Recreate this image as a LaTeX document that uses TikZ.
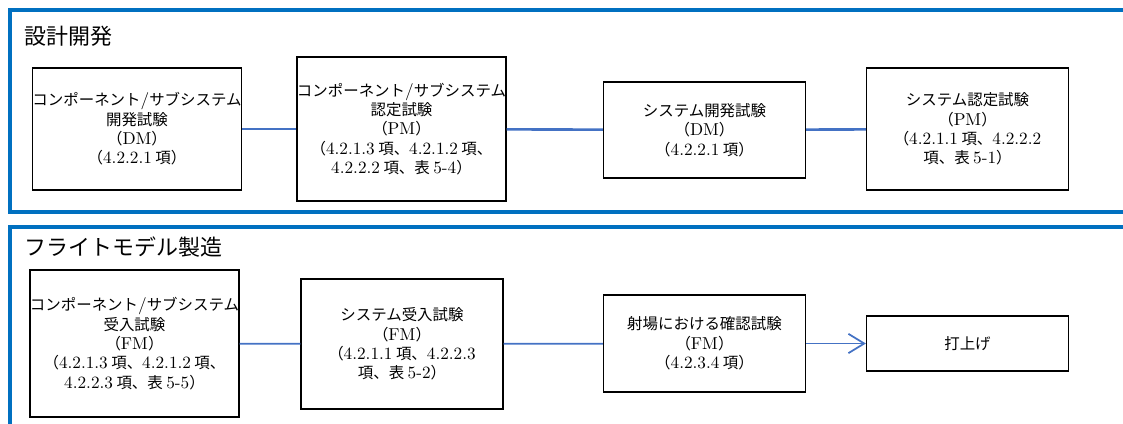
\documentclass[tikz,border=0pt]{standalone}
\usepackage{fontspec}
\newfontfamily\jp{Noto Sans CJK JP}
\usetikzlibrary{arrows.meta}
\definecolor{frameblue}{HTML}{0070C0}
\definecolor{linkblue}{HTML}{4472C4}
\newcommand\ltn[1]{{\rmfamily\fontsize{9.8}{10.8}\selectfont #1}}

\begin{document}
\begin{tikzpicture}[x=0.02cm, y=-0.02cm,
    frame/.style={draw=frameblue, line width=2.2pt},
    testbox/.style={draw, line width=0.7pt, align=center, minimum width=4.04cm, inner sep=0pt,
        font=\jp\fontsize{8.8}{11}\selectfont},
    phase/.style={anchor=west, inner sep=0pt, font=\jp\fontsize{12.5}{15}\selectfont},
    link/.style={draw=linkblue, line width=1.5pt}]
    \clip (0,0) rectangle (1123,423);

    % phase frames
    \draw [frame] (1140,10) -| (10,212) -- (1140,212);
    \draw [frame] (1140,227) -| (10,440);
    \node (devTitle) at (24,36) [phase] {設計開発};
    \node (fmTitle) at (24,247) [phase] {フライトモデル製造};

    % design development
    \node (compDev) at (137,129) [testbox, minimum height=2.44cm]
        {コンポーネント\ltn{/}サブシステム\\開発試験\\（\ltn{DM}）\\（\ltn{4.2.2.1} 項）};
    \node (compQual) at (401.5,129) [testbox, minimum height=2.88cm]
        {コンポーネント\ltn{/}サブシステム\\認定試験\\（\ltn{PM}）\\（\ltn{4.2.1.3} 項、\ltn{4.2.1.2} 項、\\\ltn{4.2.2.2} 項、表 \ltn{5-4}）};
    \node (sysDev) at (704.5,130) [testbox, minimum height=1.92cm]
        {システム開発試験\\（\ltn{DM}）\\（\ltn{4.2.2.1} 項）};
    \node (sysQual) at (967.5,129) [testbox, minimum height=2.44cm]
        {システム認定試験\\（\ltn{PM}）\\（\ltn{4.2.1.1} 項、\ltn{4.2.2.2}\\項、表 \ltn{5-1}）};

    \draw [link] (compDev) -- (compQual);
    \draw [link] (compQual) -- (sysDev);
    \draw [link] (sysDev) -- (sysQual);

    % flight model production
    \node (compAcc) at (134.5,343.5) [testbox, minimum height=2.94cm]
        {コンポーネント\ltn{/}サブシステム\\受入試験\\（\ltn{FM}）\\（\ltn{4.2.1.3} 項、\ltn{4.2.1.2} 項、\\\ltn{4.2.2.3} 項、表 \ltn{5-5}）};
    \node (sysAcc) at (402,344) [testbox, minimum height=2.6cm]
        {システム受入試験\\（\ltn{FM}）\\（\ltn{4.2.1.1} 項、\ltn{4.2.2.3}\\項、表 \ltn{5-2}）};
    \node (rangeChk) at (704.5,343.5) [testbox, minimum height=1.94cm]
        {射場における確認試験\\（\ltn{FM}）\\（\ltn{4.2.3.4} 項）};
    \node (launch) at (967.5,343.5) [testbox, minimum height=1.1cm] {打上げ};

    \draw [link, line width=1pt] (compAcc) -- (sysAcc);
    \draw [link, line width=1pt] (sysAcc) -- (rangeChk);
    \draw [link, line width=1pt, -{Straight Barb[length=9pt, width=11pt]}] (rangeChk) -- (launch);
\end{tikzpicture}
\end{document}
